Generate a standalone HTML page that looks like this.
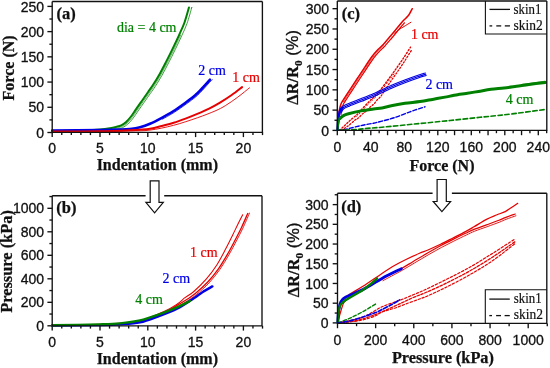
<!DOCTYPE html>
<html><head><meta charset="utf-8"><style>
html,body{margin:0;padding:0;background:#fff;width:550px;height:368px;overflow:hidden}
svg{display:block;will-change:transform}
text{font-kerning:normal}
</style></head><body>
<svg width="550" height="368" viewBox="0 0 550 368">
<rect width="550" height="368" fill="#fff"/>
<line x1="52.2" y1="132.3" x2="52.2" y2="137.1" stroke="#111" stroke-width="1.35"/>
<line x1="61.76" y1="132.3" x2="61.76" y2="135.1" stroke="#111" stroke-width="1.35"/>
<line x1="71.32" y1="132.3" x2="71.32" y2="135.1" stroke="#111" stroke-width="1.35"/>
<line x1="80.88" y1="132.3" x2="80.88" y2="135.1" stroke="#111" stroke-width="1.35"/>
<line x1="90.44" y1="132.3" x2="90.44" y2="135.1" stroke="#111" stroke-width="1.35"/>
<line x1="100" y1="132.3" x2="100" y2="137.1" stroke="#111" stroke-width="1.35"/>
<line x1="109.56" y1="132.3" x2="109.56" y2="135.1" stroke="#111" stroke-width="1.35"/>
<line x1="119.12" y1="132.3" x2="119.12" y2="135.1" stroke="#111" stroke-width="1.35"/>
<line x1="128.68" y1="132.3" x2="128.68" y2="135.1" stroke="#111" stroke-width="1.35"/>
<line x1="138.24" y1="132.3" x2="138.24" y2="135.1" stroke="#111" stroke-width="1.35"/>
<line x1="147.8" y1="132.3" x2="147.8" y2="137.1" stroke="#111" stroke-width="1.35"/>
<line x1="157.36" y1="132.3" x2="157.36" y2="135.1" stroke="#111" stroke-width="1.35"/>
<line x1="166.92" y1="132.3" x2="166.92" y2="135.1" stroke="#111" stroke-width="1.35"/>
<line x1="176.48" y1="132.3" x2="176.48" y2="135.1" stroke="#111" stroke-width="1.35"/>
<line x1="186.04" y1="132.3" x2="186.04" y2="135.1" stroke="#111" stroke-width="1.35"/>
<line x1="195.6" y1="132.3" x2="195.6" y2="137.1" stroke="#111" stroke-width="1.35"/>
<line x1="205.16" y1="132.3" x2="205.16" y2="135.1" stroke="#111" stroke-width="1.35"/>
<line x1="214.72" y1="132.3" x2="214.72" y2="135.1" stroke="#111" stroke-width="1.35"/>
<line x1="224.28" y1="132.3" x2="224.28" y2="135.1" stroke="#111" stroke-width="1.35"/>
<line x1="233.84" y1="132.3" x2="233.84" y2="135.1" stroke="#111" stroke-width="1.35"/>
<line x1="243.4" y1="132.3" x2="243.4" y2="137.1" stroke="#111" stroke-width="1.35"/>
<line x1="252.96" y1="132.3" x2="252.96" y2="135.1" stroke="#111" stroke-width="1.35"/>
<line x1="262.52" y1="132.3" x2="262.52" y2="135.1" stroke="#111" stroke-width="1.35"/>
<text x="52.2" y="153.4" font-family="'Liberation Sans', sans-serif" font-size="14" font-weight="normal" text-anchor="middle" fill="#111" stroke="#111" stroke-width="0.3">0</text>
<text x="100" y="153.4" font-family="'Liberation Sans', sans-serif" font-size="14" font-weight="normal" text-anchor="middle" fill="#111" stroke="#111" stroke-width="0.3">5</text>
<text x="147.8" y="153.4" font-family="'Liberation Sans', sans-serif" font-size="14" font-weight="normal" text-anchor="middle" fill="#111" stroke="#111" stroke-width="0.3">10</text>
<text x="195.6" y="153.4" font-family="'Liberation Sans', sans-serif" font-size="14" font-weight="normal" text-anchor="middle" fill="#111" stroke="#111" stroke-width="0.3">15</text>
<text x="243.4" y="153.4" font-family="'Liberation Sans', sans-serif" font-size="14" font-weight="normal" text-anchor="middle" fill="#111" stroke="#111" stroke-width="0.3">20</text>
<line x1="47.4" y1="132.5" x2="52.2" y2="132.5" stroke="#111" stroke-width="1.35"/>
<line x1="49.4" y1="119.89" x2="52.2" y2="119.89" stroke="#111" stroke-width="1.35"/>
<line x1="47.4" y1="107.28" x2="52.2" y2="107.28" stroke="#111" stroke-width="1.35"/>
<line x1="49.4" y1="94.67" x2="52.2" y2="94.67" stroke="#111" stroke-width="1.35"/>
<line x1="47.4" y1="82.06" x2="52.2" y2="82.06" stroke="#111" stroke-width="1.35"/>
<line x1="49.4" y1="69.45" x2="52.2" y2="69.45" stroke="#111" stroke-width="1.35"/>
<line x1="47.4" y1="56.84" x2="52.2" y2="56.84" stroke="#111" stroke-width="1.35"/>
<line x1="49.4" y1="44.23" x2="52.2" y2="44.23" stroke="#111" stroke-width="1.35"/>
<line x1="47.4" y1="31.62" x2="52.2" y2="31.62" stroke="#111" stroke-width="1.35"/>
<line x1="49.4" y1="19.01" x2="52.2" y2="19.01" stroke="#111" stroke-width="1.35"/>
<line x1="47.4" y1="6.4" x2="52.2" y2="6.4" stroke="#111" stroke-width="1.35"/>
<text x="44.1" y="137.6" font-family="'Liberation Sans', sans-serif" font-size="14" font-weight="normal" text-anchor="end" fill="#111" stroke="#111" stroke-width="0.3">0</text>
<text x="44.1" y="112.38" font-family="'Liberation Sans', sans-serif" font-size="14" font-weight="normal" text-anchor="end" fill="#111" stroke="#111" stroke-width="0.3">50</text>
<text x="44.1" y="87.16" font-family="'Liberation Sans', sans-serif" font-size="14" font-weight="normal" text-anchor="end" fill="#111" stroke="#111" stroke-width="0.3">100</text>
<text x="44.1" y="61.94" font-family="'Liberation Sans', sans-serif" font-size="14" font-weight="normal" text-anchor="end" fill="#111" stroke="#111" stroke-width="0.3">150</text>
<text x="44.1" y="36.72" font-family="'Liberation Sans', sans-serif" font-size="14" font-weight="normal" text-anchor="end" fill="#111" stroke="#111" stroke-width="0.3">200</text>
<text x="44.1" y="11.5" font-family="'Liberation Sans', sans-serif" font-size="14" font-weight="normal" text-anchor="end" fill="#111" stroke="#111" stroke-width="0.3">250</text>
<text x="157.3" y="169.5" font-family="'Liberation Serif', serif" font-size="16" font-weight="bold" text-anchor="middle" fill="#111" stroke="#111" stroke-width="0.25">Indentation (mm)</text>
<text x="0" y="0" font-family="'Liberation Serif', serif" font-size="16" font-weight="bold" text-anchor="middle" fill="#111" stroke="#111" stroke-width="0.25" transform="translate(13.9 67.9) rotate(-90)">Force (N)</text>
<text x="56.5" y="18.5" font-family="'Liberation Serif', serif" font-size="16.5" font-weight="bold" text-anchor="start" fill="#111" stroke="#111" stroke-width="0.25">(a)</text>
<text x="116.9" y="32.4" font-family="'Liberation Serif', serif" font-size="14" font-weight="normal" text-anchor="start" fill="#008000" stroke="#008000" stroke-width="0.2">dia = 4 cm</text>
<text x="198.3" y="75.3" font-family="'Liberation Serif', serif" font-size="14" font-weight="normal" text-anchor="start" fill="#0000e6" stroke="#0000e6" stroke-width="0.2">2 cm</text>
<text x="232.2" y="82.2" font-family="'Liberation Serif', serif" font-size="14" font-weight="normal" text-anchor="start" fill="#e60000" stroke="#e60000" stroke-width="0.2">1 cm</text>
<path d="M52.2 131 C56.83 130.93 72.03 130.87 80 130.6 C87.97 130.33 95 129.8 100 129.4 C105 129 107.27 128.63 110 128.2 C112.73 127.77 114.53 127.28 116.4 126.8 C118.27 126.32 119.58 126.1 121.2 125.3 C122.82 124.5 124.47 123.47 126.1 122 C127.73 120.53 129.37 118.6 131 116.5 C132.63 114.4 134.07 112.03 135.9 109.4 C137.73 106.77 139.97 103.6 142 100.7 C144.03 97.8 146.25 94.65 148.1 92 C149.95 89.35 151.17 87.82 153.1 84.8 C155.03 81.78 157.52 77.77 159.7 73.9 C161.88 70.03 164.03 65.82 166.2 61.6 C168.37 57.38 170.52 53.1 172.7 48.6 C174.88 44.1 177.33 38.95 179.3 34.6 C181.27 30.25 182.88 27.03 184.5 22.5 C186.12 17.97 188.25 9.92 189 7.4" fill="none" stroke="#008000" stroke-width="2.0" stroke-linecap="round" stroke-linejoin="round"/>
<path d="M110.23 129.63 C111.32 129.39 114.83 128.71 116.76 128.2 C118.7 127.7 120.13 127.45 121.84 126.6 C123.56 125.75 125.35 124.61 127.07 123.08 C128.79 121.54 130.47 119.53 132.14 117.39 C133.81 115.25 135.25 112.87 137.09 110.23 C138.93 107.59 141.15 104.43 143.19 101.53 C145.22 98.63 147.43 95.49 149.29 92.83 C151.14 90.17 152.38 88.62 154.32 85.58 C156.27 82.55 158.77 78.5 160.96 74.61 C163.16 70.73 165.32 66.49 167.49 62.26 C169.66 58.03 171.82 53.74 174 49.23 C176.19 44.72 179.52 37.54 180.62 35.2" fill="none" stroke="#008000" stroke-width="0.6" stroke-linecap="round" stroke-linejoin="round"/>
<path d="M117.08 129.41 C117.96 129.13 120.59 128.62 122.4 127.72 C124.2 126.82 126.11 125.6 127.9 124.01 C129.69 122.42 131.43 120.34 133.13 118.16 C134.83 115.98 136.27 113.59 138.12 110.94 C139.96 108.29 142.18 105.15 144.21 102.25 C146.24 99.35 148.45 96.21 150.31 93.55 C152.17 90.88 153.42 89.31 155.37 86.26 C157.33 83.2 159.85 79.13 162.05 75.23 C164.26 71.32 166.42 67.08 168.6 62.83 C170.78 58.59 172.94 54.3 175.13 49.78 C177.32 45.26 179.77 40.11 181.76 35.71 C183.75 31.32 185.41 28 187.04 23.41 C188.68 18.82 190.86 10.67 191.59 8.17 C192.31 5.67 191.43 8.36 191.4 8.4" fill="none" stroke="#008000" stroke-width="0.75" stroke-linecap="round" stroke-linejoin="round"/>
<path d="M52.2 130.6 C60.17 130.52 88.7 130.27 100 130.1 C111.3 129.93 115 129.78 120 129.6 C125 129.42 126.67 129.38 130 129 C133.33 128.62 136.67 128.17 140 127.3 C143.33 126.43 146.37 125.38 150 123.8 C153.63 122.22 157.87 119.93 161.8 117.8 C165.73 115.67 169.65 113.52 173.6 111 C177.55 108.48 181.95 105.27 185.5 102.7 C189.05 100.13 192.3 97.8 194.9 95.6 C197.5 93.4 198.58 92.15 201.1 89.5 C203.62 86.85 208.52 81.33 210 79.7" fill="none" stroke="#0000e6" stroke-width="2.6" stroke-linecap="round" stroke-linejoin="round"/>
<path d="M162.52 119.12 C164.5 117.98 170.43 114.8 174.41 112.27 C178.38 109.73 182.8 106.5 186.38 103.92 C189.96 101.33 193.23 98.98 195.87 96.75 C198.5 94.51 199.65 93.21 202.19 90.53 C204.73 87.86 209.41 82.48 211.11 80.71 C212.81 78.94 212.19 80.03 212.4 79.9" fill="none" stroke="#0000e6" stroke-width="0.8" stroke-linecap="round" stroke-linejoin="round"/>
<path d="M52.2 131.5 C60.17 131.47 87.03 131.52 100 131.3 C112.97 131.08 121.67 130.63 130 130.2 C138.33 129.77 144.7 129.4 150 128.7 C155.3 128 157.87 126.98 161.8 126 C165.73 125.02 169.65 124.03 173.6 122.8 C177.55 121.57 181.55 120.08 185.5 118.6 C189.45 117.12 193.37 115.57 197.3 113.9 C201.23 112.23 205.32 110.48 209.1 108.6 C212.88 106.72 216.23 104.87 220 102.6 C223.77 100.33 228.02 97.58 231.7 95 C235.38 92.42 240.37 88.42 242.1 87.1" fill="none" stroke="#e60000" stroke-width="2.0" stroke-linecap="round" stroke-linejoin="round"/>
<path d="M52.2 131.5 C60.17 131.48 87.03 131.5 100 131.4 C112.97 131.3 121.67 131.12 130 130.9 C138.33 130.68 142.73 131.03 150 130.1 C157.27 129.17 165.72 127.35 173.6 125.3 C181.48 123.25 190.4 120.18 197.3 117.8 C204.2 115.42 210.28 113.05 215 111 C219.72 108.95 221.8 107.82 225.6 105.5 C229.4 103.18 233.83 100.03 237.8 97.1 C241.77 94.17 247.47 89.43 249.4 87.9" fill="none" stroke="#e60000" stroke-width="0.9" stroke-linecap="round" stroke-linejoin="round"/>
<line x1="52.2" y1="325.8" x2="52.2" y2="330.6" stroke="#111" stroke-width="1.35"/>
<line x1="61.76" y1="325.8" x2="61.76" y2="328.6" stroke="#111" stroke-width="1.35"/>
<line x1="71.32" y1="325.8" x2="71.32" y2="328.6" stroke="#111" stroke-width="1.35"/>
<line x1="80.88" y1="325.8" x2="80.88" y2="328.6" stroke="#111" stroke-width="1.35"/>
<line x1="90.44" y1="325.8" x2="90.44" y2="328.6" stroke="#111" stroke-width="1.35"/>
<line x1="100" y1="325.8" x2="100" y2="330.6" stroke="#111" stroke-width="1.35"/>
<line x1="109.56" y1="325.8" x2="109.56" y2="328.6" stroke="#111" stroke-width="1.35"/>
<line x1="119.12" y1="325.8" x2="119.12" y2="328.6" stroke="#111" stroke-width="1.35"/>
<line x1="128.68" y1="325.8" x2="128.68" y2="328.6" stroke="#111" stroke-width="1.35"/>
<line x1="138.24" y1="325.8" x2="138.24" y2="328.6" stroke="#111" stroke-width="1.35"/>
<line x1="147.8" y1="325.8" x2="147.8" y2="330.6" stroke="#111" stroke-width="1.35"/>
<line x1="157.36" y1="325.8" x2="157.36" y2="328.6" stroke="#111" stroke-width="1.35"/>
<line x1="166.92" y1="325.8" x2="166.92" y2="328.6" stroke="#111" stroke-width="1.35"/>
<line x1="176.48" y1="325.8" x2="176.48" y2="328.6" stroke="#111" stroke-width="1.35"/>
<line x1="186.04" y1="325.8" x2="186.04" y2="328.6" stroke="#111" stroke-width="1.35"/>
<line x1="195.6" y1="325.8" x2="195.6" y2="330.6" stroke="#111" stroke-width="1.35"/>
<line x1="205.16" y1="325.8" x2="205.16" y2="328.6" stroke="#111" stroke-width="1.35"/>
<line x1="214.72" y1="325.8" x2="214.72" y2="328.6" stroke="#111" stroke-width="1.35"/>
<line x1="224.28" y1="325.8" x2="224.28" y2="328.6" stroke="#111" stroke-width="1.35"/>
<line x1="233.84" y1="325.8" x2="233.84" y2="328.6" stroke="#111" stroke-width="1.35"/>
<line x1="243.4" y1="325.8" x2="243.4" y2="330.6" stroke="#111" stroke-width="1.35"/>
<line x1="252.96" y1="325.8" x2="252.96" y2="328.6" stroke="#111" stroke-width="1.35"/>
<line x1="262.52" y1="325.8" x2="262.52" y2="328.6" stroke="#111" stroke-width="1.35"/>
<text x="52.2" y="346.9" font-family="'Liberation Sans', sans-serif" font-size="14" font-weight="normal" text-anchor="middle" fill="#111" stroke="#111" stroke-width="0.3">0</text>
<text x="100" y="346.9" font-family="'Liberation Sans', sans-serif" font-size="14" font-weight="normal" text-anchor="middle" fill="#111" stroke="#111" stroke-width="0.3">5</text>
<text x="147.8" y="346.9" font-family="'Liberation Sans', sans-serif" font-size="14" font-weight="normal" text-anchor="middle" fill="#111" stroke="#111" stroke-width="0.3">10</text>
<text x="195.6" y="346.9" font-family="'Liberation Sans', sans-serif" font-size="14" font-weight="normal" text-anchor="middle" fill="#111" stroke="#111" stroke-width="0.3">15</text>
<text x="243.4" y="346.9" font-family="'Liberation Sans', sans-serif" font-size="14" font-weight="normal" text-anchor="middle" fill="#111" stroke="#111" stroke-width="0.3">20</text>
<line x1="47.4" y1="325.8" x2="52.2" y2="325.8" stroke="#111" stroke-width="1.35"/>
<line x1="49.4" y1="314.05" x2="52.2" y2="314.05" stroke="#111" stroke-width="1.35"/>
<line x1="47.4" y1="302.3" x2="52.2" y2="302.3" stroke="#111" stroke-width="1.35"/>
<line x1="49.4" y1="290.55" x2="52.2" y2="290.55" stroke="#111" stroke-width="1.35"/>
<line x1="47.4" y1="278.8" x2="52.2" y2="278.8" stroke="#111" stroke-width="1.35"/>
<line x1="49.4" y1="267.05" x2="52.2" y2="267.05" stroke="#111" stroke-width="1.35"/>
<line x1="47.4" y1="255.3" x2="52.2" y2="255.3" stroke="#111" stroke-width="1.35"/>
<line x1="49.4" y1="243.55" x2="52.2" y2="243.55" stroke="#111" stroke-width="1.35"/>
<line x1="47.4" y1="231.8" x2="52.2" y2="231.8" stroke="#111" stroke-width="1.35"/>
<line x1="49.4" y1="220.05" x2="52.2" y2="220.05" stroke="#111" stroke-width="1.35"/>
<line x1="47.4" y1="208.3" x2="52.2" y2="208.3" stroke="#111" stroke-width="1.35"/>
<line x1="49.4" y1="196.55" x2="52.2" y2="196.55" stroke="#111" stroke-width="1.35"/>
<text x="44.1" y="330.9" font-family="'Liberation Sans', sans-serif" font-size="14" font-weight="normal" text-anchor="end" fill="#111" stroke="#111" stroke-width="0.3">0</text>
<text x="44.1" y="307.4" font-family="'Liberation Sans', sans-serif" font-size="14" font-weight="normal" text-anchor="end" fill="#111" stroke="#111" stroke-width="0.3">200</text>
<text x="44.1" y="283.9" font-family="'Liberation Sans', sans-serif" font-size="14" font-weight="normal" text-anchor="end" fill="#111" stroke="#111" stroke-width="0.3">400</text>
<text x="44.1" y="260.4" font-family="'Liberation Sans', sans-serif" font-size="14" font-weight="normal" text-anchor="end" fill="#111" stroke="#111" stroke-width="0.3">600</text>
<text x="44.1" y="236.9" font-family="'Liberation Sans', sans-serif" font-size="14" font-weight="normal" text-anchor="end" fill="#111" stroke="#111" stroke-width="0.3">800</text>
<text x="44.1" y="213.4" font-family="'Liberation Sans', sans-serif" font-size="14" font-weight="normal" text-anchor="end" fill="#111" stroke="#111" stroke-width="0.3">1000</text>
<text x="157.3" y="364.2" font-family="'Liberation Serif', serif" font-size="16" font-weight="bold" text-anchor="middle" fill="#111" stroke="#111" stroke-width="0.25">Indentation (mm)</text>
<text x="0" y="0" font-family="'Liberation Serif', serif" font-size="16.4" font-weight="bold" text-anchor="middle" fill="#111" stroke="#111" stroke-width="0.25" transform="translate(11.6 261.5) rotate(-90)">Pressure (kPa)</text>
<text x="56.3" y="212.7" font-family="'Liberation Serif', serif" font-size="16.5" font-weight="bold" text-anchor="start" fill="#111" stroke="#111" stroke-width="0.25">(b)</text>
<text x="190" y="257.1" font-family="'Liberation Serif', serif" font-size="14" font-weight="normal" text-anchor="start" fill="#e60000" stroke="#e60000" stroke-width="0.2">1 cm</text>
<text x="162.6" y="282.6" font-family="'Liberation Serif', serif" font-size="14" font-weight="normal" text-anchor="start" fill="#0000e6" stroke="#0000e6" stroke-width="0.2">2 cm</text>
<text x="135.2" y="303.6" font-family="'Liberation Serif', serif" font-size="14" font-weight="normal" text-anchor="start" fill="#008000" stroke="#008000" stroke-width="0.2">4 cm</text>
<path d="M52.2 325.3 C58.5 325.17 78.7 324.85 90 324.5 C101.3 324.15 111.67 323.82 120 323.2 C128.33 322.58 132.67 322.73 140 320.8 C147.33 318.87 157.83 314.37 164 311.6 C170.17 308.83 173.5 306.52 177 304.2 C180.5 301.88 182.2 299.82 185 297.7 C187.8 295.58 190.27 294.58 193.8 291.5 C197.33 288.42 202.37 283.62 206.2 279.2 C210.03 274.78 213.57 270.02 216.8 265 C220.03 259.98 222.95 254.1 225.6 249.1 C228.25 244.1 230.72 239.02 232.7 235 C234.68 230.98 235.83 228.38 237.5 225 C239.17 221.62 241.83 216.42 242.7 214.7" fill="none" stroke="#e60000" stroke-width="1.05" stroke-linecap="round" stroke-linejoin="round"/>
<path d="M52.2 325.5 C58.5 325.38 78.7 325.12 90 324.8 C101.3 324.48 111.67 324.18 120 323.6 C128.33 323.02 132.67 323.17 140 321.3 C147.33 319.43 157.83 315.05 164 312.4 C170.17 309.75 173.2 307.55 177 305.4 C180.8 303.25 183.7 301.52 186.8 299.5 C189.9 297.48 192.07 296.25 195.6 293.3 C199.13 290.35 204.17 285.92 208 281.8 C211.83 277.68 215.37 273.17 218.6 268.6 C221.83 264.03 224.67 259.12 227.4 254.4 C230.13 249.68 232.65 244.78 235 240.3 C237.35 235.82 239.38 231.97 241.5 227.5 C243.62 223.03 246.67 215.83 247.7 213.5" fill="none" stroke="#e60000" stroke-width="1.3" stroke-linecap="round" stroke-linejoin="round"/>
<path d="M164.59 313.78 C166.78 312.6 173.9 308.88 177.74 306.71 C181.58 304.54 184.48 302.8 187.62 300.76 C190.76 298.72 192.98 297.44 196.56 294.45 C200.14 291.46 205.22 286.99 209.1 282.82 C212.97 278.66 216.56 274.08 219.82 269.47 C223.09 264.86 225.95 259.9 228.7 255.15 C231.45 250.41 233.97 245.5 236.33 241 C238.69 236.49 240.73 232.62 242.86 228.14 C244.98 223.66 248.06 216.5 249.07 214.11 C250.08 211.72 248.93 213.85 248.9 213.8" fill="none" stroke="#e60000" stroke-width="0.9" stroke-linecap="round" stroke-linejoin="round"/>
<path d="M52.2 325.6 C60.17 325.52 88.7 325.3 100 325.1 C111.3 324.9 113.33 324.85 120 324.4 C126.67 323.95 133.58 323.75 140 322.4 C146.42 321.05 152.33 318.57 158.5 316.3 C164.67 314.03 171.12 311.82 177 308.8 C182.88 305.78 189.52 301 193.8 298.2 C198.08 295.4 199.6 293.97 202.7 292 C205.8 290.03 210.78 287.33 212.4 286.4" fill="none" stroke="#0000e6" stroke-width="2.4" stroke-linecap="round" stroke-linejoin="round"/>
<path d="M52.2 325.3 C60.17 325.15 88.7 324.72 100 324.4 C111.3 324.08 113.33 324.07 120 323.4 C126.67 322.73 133.58 321.87 140 320.4 C146.42 318.93 152.33 316.77 158.5 314.6 C164.67 312.43 171.77 309.67 177 307.4 C182.23 305.13 187.75 302.07 189.9 301" fill="none" stroke="#008000" stroke-width="2.4" stroke-linecap="round" stroke-linejoin="round"/>
<line x1="337.3" y1="130.4" x2="337.3" y2="135.2" stroke="#111" stroke-width="1.35"/>
<line x1="345.68" y1="130.4" x2="345.68" y2="133.2" stroke="#111" stroke-width="1.35"/>
<line x1="354.05" y1="130.4" x2="354.05" y2="135.2" stroke="#111" stroke-width="1.35"/>
<line x1="362.43" y1="130.4" x2="362.43" y2="133.2" stroke="#111" stroke-width="1.35"/>
<line x1="370.8" y1="130.4" x2="370.8" y2="135.2" stroke="#111" stroke-width="1.35"/>
<line x1="379.18" y1="130.4" x2="379.18" y2="133.2" stroke="#111" stroke-width="1.35"/>
<line x1="387.55" y1="130.4" x2="387.55" y2="135.2" stroke="#111" stroke-width="1.35"/>
<line x1="395.93" y1="130.4" x2="395.93" y2="133.2" stroke="#111" stroke-width="1.35"/>
<line x1="404.3" y1="130.4" x2="404.3" y2="135.2" stroke="#111" stroke-width="1.35"/>
<line x1="412.68" y1="130.4" x2="412.68" y2="133.2" stroke="#111" stroke-width="1.35"/>
<line x1="421.05" y1="130.4" x2="421.05" y2="135.2" stroke="#111" stroke-width="1.35"/>
<line x1="429.43" y1="130.4" x2="429.43" y2="133.2" stroke="#111" stroke-width="1.35"/>
<line x1="437.8" y1="130.4" x2="437.8" y2="135.2" stroke="#111" stroke-width="1.35"/>
<line x1="446.18" y1="130.4" x2="446.18" y2="133.2" stroke="#111" stroke-width="1.35"/>
<line x1="454.55" y1="130.4" x2="454.55" y2="135.2" stroke="#111" stroke-width="1.35"/>
<line x1="462.93" y1="130.4" x2="462.93" y2="133.2" stroke="#111" stroke-width="1.35"/>
<line x1="471.3" y1="130.4" x2="471.3" y2="135.2" stroke="#111" stroke-width="1.35"/>
<line x1="479.68" y1="130.4" x2="479.68" y2="133.2" stroke="#111" stroke-width="1.35"/>
<line x1="488.05" y1="130.4" x2="488.05" y2="135.2" stroke="#111" stroke-width="1.35"/>
<line x1="496.43" y1="130.4" x2="496.43" y2="133.2" stroke="#111" stroke-width="1.35"/>
<line x1="504.8" y1="130.4" x2="504.8" y2="135.2" stroke="#111" stroke-width="1.35"/>
<line x1="513.17" y1="130.4" x2="513.17" y2="133.2" stroke="#111" stroke-width="1.35"/>
<line x1="521.55" y1="130.4" x2="521.55" y2="135.2" stroke="#111" stroke-width="1.35"/>
<line x1="529.92" y1="130.4" x2="529.92" y2="133.2" stroke="#111" stroke-width="1.35"/>
<line x1="538.3" y1="130.4" x2="538.3" y2="135.2" stroke="#111" stroke-width="1.35"/>
<line x1="546.67" y1="130.4" x2="546.67" y2="133.2" stroke="#111" stroke-width="1.35"/>
<text x="337.3" y="151.8" font-family="'Liberation Sans', sans-serif" font-size="14" font-weight="normal" text-anchor="middle" fill="#111" stroke="#111" stroke-width="0.3">0</text>
<text x="370.8" y="151.8" font-family="'Liberation Sans', sans-serif" font-size="14" font-weight="normal" text-anchor="middle" fill="#111" stroke="#111" stroke-width="0.3">40</text>
<text x="404.3" y="151.8" font-family="'Liberation Sans', sans-serif" font-size="14" font-weight="normal" text-anchor="middle" fill="#111" stroke="#111" stroke-width="0.3">80</text>
<text x="437.8" y="151.8" font-family="'Liberation Sans', sans-serif" font-size="14" font-weight="normal" text-anchor="middle" fill="#111" stroke="#111" stroke-width="0.3">120</text>
<text x="471.3" y="151.8" font-family="'Liberation Sans', sans-serif" font-size="14" font-weight="normal" text-anchor="middle" fill="#111" stroke="#111" stroke-width="0.3">160</text>
<text x="504.8" y="151.8" font-family="'Liberation Sans', sans-serif" font-size="14" font-weight="normal" text-anchor="middle" fill="#111" stroke="#111" stroke-width="0.3">200</text>
<text x="538.3" y="151.8" font-family="'Liberation Sans', sans-serif" font-size="14" font-weight="normal" text-anchor="middle" fill="#111" stroke="#111" stroke-width="0.3">240</text>
<line x1="332.5" y1="130.4" x2="337.3" y2="130.4" stroke="#111" stroke-width="1.35"/>
<line x1="334.5" y1="120.26" x2="337.3" y2="120.26" stroke="#111" stroke-width="1.35"/>
<line x1="332.5" y1="110.12" x2="337.3" y2="110.12" stroke="#111" stroke-width="1.35"/>
<line x1="334.5" y1="99.97" x2="337.3" y2="99.97" stroke="#111" stroke-width="1.35"/>
<line x1="332.5" y1="89.83" x2="337.3" y2="89.83" stroke="#111" stroke-width="1.35"/>
<line x1="334.5" y1="79.69" x2="337.3" y2="79.69" stroke="#111" stroke-width="1.35"/>
<line x1="332.5" y1="69.55" x2="337.3" y2="69.55" stroke="#111" stroke-width="1.35"/>
<line x1="334.5" y1="59.4" x2="337.3" y2="59.4" stroke="#111" stroke-width="1.35"/>
<line x1="332.5" y1="49.26" x2="337.3" y2="49.26" stroke="#111" stroke-width="1.35"/>
<line x1="334.5" y1="39.12" x2="337.3" y2="39.12" stroke="#111" stroke-width="1.35"/>
<line x1="332.5" y1="28.98" x2="337.3" y2="28.98" stroke="#111" stroke-width="1.35"/>
<line x1="334.5" y1="18.83" x2="337.3" y2="18.83" stroke="#111" stroke-width="1.35"/>
<line x1="332.5" y1="8.69" x2="337.3" y2="8.69" stroke="#111" stroke-width="1.35"/>
<text x="329" y="135.5" font-family="'Liberation Sans', sans-serif" font-size="14" font-weight="normal" text-anchor="end" fill="#111" stroke="#111" stroke-width="0.3">0</text>
<text x="329" y="115.22" font-family="'Liberation Sans', sans-serif" font-size="14" font-weight="normal" text-anchor="end" fill="#111" stroke="#111" stroke-width="0.3">50</text>
<text x="329" y="94.93" font-family="'Liberation Sans', sans-serif" font-size="14" font-weight="normal" text-anchor="end" fill="#111" stroke="#111" stroke-width="0.3">100</text>
<text x="329" y="74.64" font-family="'Liberation Sans', sans-serif" font-size="14" font-weight="normal" text-anchor="end" fill="#111" stroke="#111" stroke-width="0.3">150</text>
<text x="329" y="54.36" font-family="'Liberation Sans', sans-serif" font-size="14" font-weight="normal" text-anchor="end" fill="#111" stroke="#111" stroke-width="0.3">200</text>
<text x="329" y="34.08" font-family="'Liberation Sans', sans-serif" font-size="14" font-weight="normal" text-anchor="end" fill="#111" stroke="#111" stroke-width="0.3">250</text>
<text x="329" y="13.79" font-family="'Liberation Sans', sans-serif" font-size="14" font-weight="normal" text-anchor="end" fill="#111" stroke="#111" stroke-width="0.3">300</text>
<text x="442" y="170.6" font-family="'Liberation Serif', serif" font-size="16" font-weight="bold" text-anchor="middle" fill="#111" stroke="#111" stroke-width="0.25">Force (N)</text>
<text font-family="'Liberation Serif', serif" font-size="16.5" font-weight="bold" text-anchor="middle" fill="#111" stroke="#111" stroke-width="0.25" transform="translate(298.3 67.4) rotate(-90)">&#916;R/R<tspan font-size="11.3" dy="3.9">0</tspan><tspan dy="-3.9" font-family="'Liberation Sans', sans-serif" font-weight="normal" stroke-width="0.3"> (%)</tspan></text>
<text x="341.8" y="18.6" font-family="'Liberation Serif', serif" font-size="16.5" font-weight="bold" text-anchor="start" fill="#111" stroke="#111" stroke-width="0.25">(c)</text>
<text x="410.9" y="39" font-family="'Liberation Serif', serif" font-size="14" font-weight="normal" text-anchor="start" fill="#e60000" stroke="#e60000" stroke-width="0.2">1 cm</text>
<text x="425.4" y="89.3" font-family="'Liberation Serif', serif" font-size="14" font-weight="normal" text-anchor="start" fill="#0000e6" stroke="#0000e6" stroke-width="0.2">2 cm</text>
<text x="505.8" y="104.4" font-family="'Liberation Serif', serif" font-size="14" font-weight="normal" text-anchor="start" fill="#008000" stroke="#008000" stroke-width="0.2">4 cm</text>
<path d="M485.4 1.0 L485.4 34.0 L546.8 34.0" fill="none" stroke="#111" stroke-width="1.1"/>
<line x1="489.5" y1="9.4" x2="510" y2="9.4" stroke="#111" stroke-width="1.3"/>
<line x1="489.5" y1="25.9" x2="492.2" y2="25.9" stroke="#111" stroke-width="1.3"/>
<line x1="496.3" y1="25.9" x2="501.2" y2="25.9" stroke="#111" stroke-width="1.3"/>
<line x1="504.8" y1="25.9" x2="510" y2="25.9" stroke="#111" stroke-width="1.3"/>
<text x="513.6" y="13.5" font-family="'Liberation Serif', serif" font-size="14" font-weight="normal" text-anchor="start" fill="#111" stroke="#111" stroke-width="0.2" textLength="27.8" lengthAdjust="spacingAndGlyphs">skin1</text>
<text x="513.6" y="29.6" font-family="'Liberation Serif', serif" font-size="14" font-weight="normal" text-anchor="start" fill="#111" stroke="#111" stroke-width="0.2" textLength="29.2" lengthAdjust="spacingAndGlyphs">skin2</text>
<path d="M339.5 130.2 C340.42 129.38 343.25 126.92 345 125.3 C346.75 123.68 348.2 122.12 350 120.5 C351.8 118.88 354.42 116.82 355.8 115.6 C357.18 114.38 357.08 114.48 358.3 113.2 C359.52 111.92 361.33 109.8 363.1 107.9 C364.87 106 367.27 103.45 368.9 101.8 C370.53 100.15 371.3 99.58 372.9 98 C374.5 96.42 376.19 95.05 378.5 92.3 C380.81 89.55 384.12 85 386.75 81.5 C389.38 78 391.54 75.08 394.25 71.3 C396.96 67.52 400.29 62.82 403 58.8 C405.71 54.78 409.25 49.13 410.5 47.2" fill="none" stroke="#e60000" stroke-width="1.4" stroke-linecap="round" stroke-linejoin="round" stroke-dasharray="1.4 1.9"/>
<path d="M341.5 130.2 C342.58 129.5 345.75 127.68 348 126 C350.25 124.32 353.28 121.42 355 120.1 C356.72 118.78 357.08 119.12 358.3 118.1 C359.52 117.08 361.08 115.08 362.3 114 C363.52 112.92 364.23 112.82 365.6 111.6 C366.97 110.38 369.15 107.93 370.5 106.7 C371.85 105.47 372.62 105.3 373.7 104.2 C374.78 103.1 375.9 101.32 377 100.1 C378.1 98.88 379.35 97.98 380.3 96.9 C381.25 95.82 381 96.15 382.7 93.6 C384.4 91.05 387.95 85.37 390.5 81.6 C393.05 77.83 395.5 74.64 398 71 C400.5 67.36 403.21 63.29 405.5 59.75 C407.79 56.21 410.71 51.42 411.75 49.75" fill="none" stroke="#e60000" stroke-width="1.3" stroke-linecap="round" stroke-linejoin="round" stroke-dasharray="1.4 1.9"/>
<path d="M356.59 116.5 C357.02 116.09 357.94 115.32 359.17 114.03 C360.4 112.73 362.22 110.61 363.98 108.72 C365.74 106.82 368.13 104.29 369.75 102.64 C371.38 101 372.13 100.45 373.74 98.85 C375.36 97.26 377.09 95.84 379.42 93.07 C381.75 90.3 385.08 85.73 387.71 82.22 C390.34 78.71 393.97 73.7 395.23 72" fill="none" stroke="#e60000" stroke-width="1.0" stroke-linecap="round" stroke-linejoin="round" stroke-dasharray="1.2 2.5"/>
<path d="M337.6 129.8 C337.68 128.5 337.9 124.63 338.1 122 C338.3 119.37 338.52 116.33 338.8 114 C339.08 111.67 339.4 109.75 339.8 108 C340.2 106.25 340.75 104.65 341.2 103.5 C341.65 102.35 341.03 103.42 342.5 101.1 C343.97 98.78 347.48 93.45 350 89.6 C352.52 85.75 355.1 81.8 357.6 78 C360.1 74.2 362.6 70.38 365 66.8 C367.4 63.22 369.92 59.3 372 56.5 C374.08 53.7 375.71 51.92 377.5 50 C379.29 48.08 380.62 47.29 382.75 45 C384.88 42.71 387.96 38.96 390.25 36.25 C392.54 33.54 394.42 31.25 396.5 28.75 C398.58 26.25 400.88 23.33 402.75 21.25 C404.62 19.17 406.5 17.71 407.75 16.25 C409 14.79 409.49 13.76 410.25 12.5 C411.01 11.24 411.96 9.33 412.3 8.7" fill="none" stroke="#e60000" stroke-width="1.5" stroke-linecap="round" stroke-linejoin="round"/>
<path d="M341.08 114.28 C341.24 113.32 341.67 110.17 342.04 108.51 C342.42 106.86 342.94 105.37 343.34 104.34 C343.74 103.31 343.01 104.58 344.44 102.33 C345.87 100.08 349.41 94.7 351.93 90.86 C354.44 87.01 357.02 83.06 359.52 79.26 C362.02 75.47 364.52 71.65 366.91 68.08 C369.3 64.51 371.8 60.62 373.85 57.87 C375.89 55.12 377.42 53.46 379.18 51.57 C380.95 49.69 382.3 48.87 384.44 46.56 C386.57 44.26 389.7 40.46 392.01 37.74 C394.31 35.01 396.19 32.71 398.27 30.22 C400.34 27.73 403.43 24.03 404.46 22.79" fill="none" stroke="#e60000" stroke-width="1.2" stroke-linecap="round" stroke-linejoin="round"/>
<path d="M343.51 101.74 C344.76 99.83 348.49 94.1 351 90.26 C353.52 86.41 356.1 82.46 358.6 78.66 C361.1 74.86 363.6 71.04 366 67.47 C368.39 63.89 370.9 59.99 372.96 57.22 C375.03 54.44 376.6 52.72 378.38 50.82 C380.15 48.92 382.75 46.65 383.63 45.82" fill="none" stroke="#e60000" stroke-width="0.7" stroke-linecap="round" stroke-linejoin="round"/>
<path d="M394.5 33.2 C395.25 32.6 397.42 30.72 399 29.6 C400.58 28.48 402.02 27.72 404 26.5 C405.98 25.28 409.75 23 410.9 22.3" fill="none" stroke="#e60000" stroke-width="1.0" stroke-linecap="round" stroke-linejoin="round"/>
<path d="M337.6 129.8 C337.65 128.83 337.75 126.05 337.9 124 C338.05 121.95 338.17 119.58 338.5 117.5 C338.83 115.42 339.27 113.15 339.9 111.5 C340.53 109.85 341.9 108.25 342.3 107.6" fill="none" stroke="#0000e6" stroke-width="2.5" stroke-linecap="round" stroke-linejoin="round"/>
<path d="M339.15 111.21 C339.59 110.51 340.29 108.22 341.79 106.98 C343.3 105.74 345.03 105.12 348.19 103.76 C351.34 102.41 356.54 100.51 360.71 98.86 C364.87 97.21 370.03 95.19 373.19 93.86 C376.35 92.53 376.5 92.34 379.66 90.87 C382.83 89.41 388.01 86.87 392.18 85.07 C396.36 83.26 400.54 81.64 404.72 80.05 C408.89 78.47 413.8 76.73 417.24 75.54 C420.68 74.36 424 73.37 425.36 72.94" fill="none" stroke="#0000e6" stroke-width="1.1" stroke-linecap="round" stroke-linejoin="round"/>
<path d="M340.37 111.68 C340.74 111.06 341.23 109.11 342.62 107.99 C344 106.87 345.6 106.28 348.7 104.96 C351.79 103.64 357.02 101.71 361.18 100.06 C365.35 98.42 370.52 96.4 373.69 95.06 C376.87 93.73 377.04 93.52 380.21 92.05 C383.38 90.59 388.54 88.06 392.7 86.26 C396.86 84.46 401.02 82.85 405.18 81.27 C409.34 79.69 414.23 77.95 417.66 76.77 C421.09 75.59 424.4 74.61 425.75 74.18" fill="none" stroke="#0000e6" stroke-width="1.1" stroke-linecap="round" stroke-linejoin="round"/>
<path d="M341.58 112.15 C341.89 111.62 342.17 109.99 343.44 109 C344.71 108 346.17 107.44 349.21 106.15 C352.25 104.87 357.5 102.92 361.66 101.27 C365.83 99.62 371.02 97.6 374.2 96.26 C377.38 94.92 377.59 94.7 380.76 93.23 C383.93 91.77 389.07 89.24 393.21 87.45 C397.36 85.66 401.49 84.06 405.64 82.48 C409.78 80.91 414.67 79.18 418.09 78 C421.5 76.82 424.81 75.85 426.15 75.41" fill="none" stroke="#0000e6" stroke-width="1.1" stroke-linecap="round" stroke-linejoin="round"/>
<path d="M337.6 129.8 C337.65 129.17 337.75 127.22 337.9 126 C338.05 124.78 338.17 123.75 338.5 122.5 C338.83 121.25 339.07 119.65 339.9 118.5 C340.73 117.35 342.9 116.08 343.5 115.6" fill="none" stroke="#008000" stroke-width="2.0" stroke-linecap="round" stroke-linejoin="round"/>
<path d="M339.9 118.5 C340.5 118.02 342.07 116.38 343.5 115.6 C344.93 114.82 345.58 114.58 348.5 113.8 C351.42 113.02 356.83 111.7 361 110.9 C365.17 110.1 370 109.48 373.5 109 C377 108.52 378.83 108.58 382 108 C385.17 107.42 388.67 106.28 392.5 105.5 C396.33 104.72 400.42 103.95 405 103.3 C409.58 102.65 415.42 102.25 420 101.6 C424.58 100.95 428.33 100.15 432.5 99.4 C436.67 98.65 440.83 97.87 445 97.1 C449.17 96.33 454 95.4 457.5 94.8 C461 94.2 462.5 94.07 466 93.5 C469.5 92.93 474.33 92.1 478.5 91.4 C482.67 90.7 486.75 89.87 491 89.3 C495.25 88.73 499.75 88.5 504 88 C508.25 87.5 512.33 86.88 516.5 86.3 C520.67 85.72 524.2 85.15 529 84.5 C533.8 83.85 542.58 82.75 545.3 82.4" fill="none" stroke="#008000" stroke-width="3.0" stroke-linecap="round" stroke-linejoin="round"/>
<path d="M522.7 84.2 C524.75 83.95 531.28 83.2 535 82.7 C538.72 82.2 543.33 81.45 545 81.2" fill="none" stroke="#008000" stroke-width="0.8" stroke-linecap="round" stroke-linejoin="round"/>
<path d="M337.6 130.2 C338.5 130.12 341.18 129.97 343 129.7 C344.82 129.43 345.5 129.28 348.5 128.6 C351.5 127.92 356.83 126.5 361 125.6 C365.17 124.7 370 123.95 373.5 123.2 C377 122.45 378.47 122.03 382 121.1 C385.53 120.17 390.03 119.15 394.7 117.6 C399.37 116.05 404.95 113.6 410 111.8 C415.05 110 422.5 107.63 425 106.8" fill="none" stroke="#0000e6" stroke-width="1.4" stroke-linecap="round" stroke-linejoin="round" stroke-dasharray="4 2"/>
<path d="M337.6 130.3 C340.46 130.18 349.81 129.92 354.75 129.6 C359.69 129.28 362.71 128.8 367.25 128.4 C371.79 128 376.54 127.68 382 127.2 C387.46 126.72 393.67 126.12 400 125.5 C406.33 124.88 411.67 124.33 420 123.5 C428.33 122.67 440 121.53 450 120.5 C460 119.47 472.17 118.12 480 117.3 C487.83 116.48 491.67 116.17 497 115.6 C502.33 115.03 504.12 114.9 512 113.9 C519.88 112.9 538.92 110.32 544.3 109.6" fill="none" stroke="#008000" stroke-width="1.6" stroke-linecap="round" stroke-linejoin="round" stroke-dasharray="4.5 2.5"/>
<line x1="337.5" y1="323.4" x2="337.5" y2="328.2" stroke="#111" stroke-width="1.35"/>
<line x1="356.57" y1="323.4" x2="356.57" y2="326.2" stroke="#111" stroke-width="1.35"/>
<line x1="375.64" y1="323.4" x2="375.64" y2="328.2" stroke="#111" stroke-width="1.35"/>
<line x1="394.71" y1="323.4" x2="394.71" y2="326.2" stroke="#111" stroke-width="1.35"/>
<line x1="413.78" y1="323.4" x2="413.78" y2="328.2" stroke="#111" stroke-width="1.35"/>
<line x1="432.85" y1="323.4" x2="432.85" y2="326.2" stroke="#111" stroke-width="1.35"/>
<line x1="451.92" y1="323.4" x2="451.92" y2="328.2" stroke="#111" stroke-width="1.35"/>
<line x1="470.99" y1="323.4" x2="470.99" y2="326.2" stroke="#111" stroke-width="1.35"/>
<line x1="490.06" y1="323.4" x2="490.06" y2="328.2" stroke="#111" stroke-width="1.35"/>
<line x1="509.13" y1="323.4" x2="509.13" y2="326.2" stroke="#111" stroke-width="1.35"/>
<line x1="528.2" y1="323.4" x2="528.2" y2="328.2" stroke="#111" stroke-width="1.35"/>
<line x1="547.27" y1="323.4" x2="547.27" y2="326.2" stroke="#111" stroke-width="1.35"/>
<text x="337.5" y="344.8" font-family="'Liberation Sans', sans-serif" font-size="14" font-weight="normal" text-anchor="middle" fill="#111" stroke="#111" stroke-width="0.3">0</text>
<text x="375.64" y="344.8" font-family="'Liberation Sans', sans-serif" font-size="14" font-weight="normal" text-anchor="middle" fill="#111" stroke="#111" stroke-width="0.3">200</text>
<text x="413.78" y="344.8" font-family="'Liberation Sans', sans-serif" font-size="14" font-weight="normal" text-anchor="middle" fill="#111" stroke="#111" stroke-width="0.3">400</text>
<text x="451.92" y="344.8" font-family="'Liberation Sans', sans-serif" font-size="14" font-weight="normal" text-anchor="middle" fill="#111" stroke="#111" stroke-width="0.3">600</text>
<text x="490.06" y="344.8" font-family="'Liberation Sans', sans-serif" font-size="14" font-weight="normal" text-anchor="middle" fill="#111" stroke="#111" stroke-width="0.3">800</text>
<text x="528.2" y="344.8" font-family="'Liberation Sans', sans-serif" font-size="14" font-weight="normal" text-anchor="middle" fill="#111" stroke="#111" stroke-width="0.3">1000</text>
<line x1="332.7" y1="322.9" x2="337.5" y2="322.9" stroke="#111" stroke-width="1.35"/>
<line x1="334.7" y1="313.04" x2="337.5" y2="313.04" stroke="#111" stroke-width="1.35"/>
<line x1="332.7" y1="303.19" x2="337.5" y2="303.19" stroke="#111" stroke-width="1.35"/>
<line x1="334.7" y1="293.33" x2="337.5" y2="293.33" stroke="#111" stroke-width="1.35"/>
<line x1="332.7" y1="283.47" x2="337.5" y2="283.47" stroke="#111" stroke-width="1.35"/>
<line x1="334.7" y1="273.61" x2="337.5" y2="273.61" stroke="#111" stroke-width="1.35"/>
<line x1="332.7" y1="263.75" x2="337.5" y2="263.75" stroke="#111" stroke-width="1.35"/>
<line x1="334.7" y1="253.9" x2="337.5" y2="253.9" stroke="#111" stroke-width="1.35"/>
<line x1="332.7" y1="244.04" x2="337.5" y2="244.04" stroke="#111" stroke-width="1.35"/>
<line x1="334.7" y1="234.18" x2="337.5" y2="234.18" stroke="#111" stroke-width="1.35"/>
<line x1="332.7" y1="224.32" x2="337.5" y2="224.32" stroke="#111" stroke-width="1.35"/>
<line x1="334.7" y1="214.47" x2="337.5" y2="214.47" stroke="#111" stroke-width="1.35"/>
<line x1="332.7" y1="204.61" x2="337.5" y2="204.61" stroke="#111" stroke-width="1.35"/>
<line x1="334.7" y1="194.75" x2="337.5" y2="194.75" stroke="#111" stroke-width="1.35"/>
<text x="328.6" y="328" font-family="'Liberation Sans', sans-serif" font-size="14" font-weight="normal" text-anchor="end" fill="#111" stroke="#111" stroke-width="0.3">0</text>
<text x="328.6" y="308.29" font-family="'Liberation Sans', sans-serif" font-size="14" font-weight="normal" text-anchor="end" fill="#111" stroke="#111" stroke-width="0.3">50</text>
<text x="328.6" y="288.57" font-family="'Liberation Sans', sans-serif" font-size="14" font-weight="normal" text-anchor="end" fill="#111" stroke="#111" stroke-width="0.3">100</text>
<text x="328.6" y="268.86" font-family="'Liberation Sans', sans-serif" font-size="14" font-weight="normal" text-anchor="end" fill="#111" stroke="#111" stroke-width="0.3">150</text>
<text x="328.6" y="249.14" font-family="'Liberation Sans', sans-serif" font-size="14" font-weight="normal" text-anchor="end" fill="#111" stroke="#111" stroke-width="0.3">200</text>
<text x="328.6" y="229.42" font-family="'Liberation Sans', sans-serif" font-size="14" font-weight="normal" text-anchor="end" fill="#111" stroke="#111" stroke-width="0.3">250</text>
<text x="328.6" y="209.71" font-family="'Liberation Sans', sans-serif" font-size="14" font-weight="normal" text-anchor="end" fill="#111" stroke="#111" stroke-width="0.3">300</text>
<text x="442.9" y="363" font-family="'Liberation Serif', serif" font-size="16.3" font-weight="bold" text-anchor="middle" fill="#111" stroke="#111" stroke-width="0.25">Pressure (kPa)</text>
<text font-family="'Liberation Serif', serif" font-size="16.5" font-weight="bold" text-anchor="middle" fill="#111" stroke="#111" stroke-width="0.25" transform="translate(299.0 259.9) rotate(-90)">&#916;R/R<tspan font-size="11.3" dy="3.9">0</tspan><tspan dy="-3.9" font-family="'Liberation Sans', sans-serif" font-weight="normal" stroke-width="0.3"> (%)</tspan></text>
<text x="341.2" y="211.6" font-family="'Liberation Serif', serif" font-size="16.5" font-weight="bold" text-anchor="start" fill="#111" stroke="#111" stroke-width="0.25">(d)</text>
<path d="M546.8 289.8 L485.3 289.8 L485.3 323.4" fill="none" stroke="#111" stroke-width="1.1"/>
<line x1="489.3" y1="299.1" x2="509.8" y2="299.1" stroke="#111" stroke-width="1.3"/>
<line x1="489.3" y1="315.6" x2="492" y2="315.6" stroke="#111" stroke-width="1.3"/>
<line x1="496.1" y1="315.6" x2="501" y2="315.6" stroke="#111" stroke-width="1.3"/>
<line x1="504.6" y1="315.6" x2="509.8" y2="315.6" stroke="#111" stroke-width="1.3"/>
<text x="513.8" y="302.7" font-family="'Liberation Serif', serif" font-size="14" font-weight="normal" text-anchor="start" fill="#111" stroke="#111" stroke-width="0.2" textLength="27.8" lengthAdjust="spacingAndGlyphs">skin1</text>
<text x="513.8" y="319" font-family="'Liberation Serif', serif" font-size="14" font-weight="normal" text-anchor="start" fill="#111" stroke="#111" stroke-width="0.2" textLength="29.2" lengthAdjust="spacingAndGlyphs">skin2</text>
<path d="M338 322.9 C340 322.52 345.5 321.72 350 320.6 C354.5 319.48 359.67 318.5 365 316.2 C370.33 313.9 376.17 309.47 382 306.8 C387.83 304.13 394.79 302.2 400 300.2 C405.21 298.2 409.17 296.5 413.25 294.8 C417.33 293.1 419.01 292.55 424.5 290 C429.99 287.45 438.73 283.25 446.2 279.5 C453.67 275.75 461.6 271.83 469.3 267.5 C477 263.17 484.9 258.18 492.4 253.5 C499.9 248.82 510.65 241.75 514.3 239.4" fill="none" stroke="#e60000" stroke-width="1.2" stroke-linecap="round" stroke-linejoin="round" stroke-dasharray="2.4 1.8"/>
<path d="M338 322.9 C340.83 322.55 349.67 321.87 355 320.8 C360.33 319.73 365 318.22 370 316.5 C375 314.78 379.88 312.7 385 310.5 C390.12 308.3 396.04 305.47 400.75 303.3 C405.46 301.13 408.88 299.38 413.25 297.5 C417.62 295.62 421.51 294.38 427 292 C432.49 289.62 439.15 286.67 446.2 283.2 C453.25 279.73 461.6 275.53 469.3 271.2 C477 266.87 484.7 262.17 492.4 257.2 C500.1 252.23 511.65 244.03 515.5 241.4" fill="none" stroke="#e60000" stroke-width="1.3" stroke-linecap="round" stroke-linejoin="round" stroke-dasharray="2.6 1.6"/>
<path d="M338 323 C341.67 322.58 353.83 321.67 360 320.5 C366.17 319.33 371.33 317.42 375 316 C378.67 314.58 378.75 313.3 382 312 C385.25 310.7 390.33 309.62 394.5 308.2 C398.67 306.78 402.83 305.03 407 303.5 C411.17 301.97 416.17 300.22 419.5 299 C422.83 297.78 422.55 298.17 427 296.2 C431.45 294.23 439.15 290.73 446.2 287.2 C453.25 283.67 461.6 279.4 469.3 275 C477 270.6 484.7 266.1 492.4 260.8 C500.1 255.5 511.65 246.13 515.5 243.2" fill="none" stroke="#e60000" stroke-width="1.2" stroke-linecap="round" stroke-linejoin="round" stroke-dasharray="2.4 1.8"/>
<path d="M337.8 322.3 C337.93 321.08 338.3 317.22 338.6 315 C338.9 312.78 339.2 310.83 339.6 309 C340 307.17 340.27 305.7 341 304 C341.73 302.3 342.58 300.42 344 298.8 C345.42 297.18 346.35 296.38 349.5 294.3 C352.65 292.22 357.48 289.78 362.9 286.3 C368.32 282.82 376.73 276.87 382 273.4 C387.27 269.93 390.33 267.9 394.5 265.5 C398.67 263.1 402.83 261.03 407 259 C411.17 256.97 416 254.8 419.5 253.3 C423 251.8 424.5 251.5 428 250 C431.5 248.5 436.33 246.3 440.5 244.3 C444.67 242.3 448.83 240.12 453 238 C457.17 235.88 462 233.47 465.5 231.6 C469 229.73 470.5 228.83 474 226.8 C477.5 224.77 482.75 221.37 486.5 219.4 C490.25 217.43 493.38 216.3 496.5 215 C499.62 213.7 502.75 212.85 505.25 211.6 C507.75 210.35 509.42 208.88 511.5 207.5 C513.58 206.12 516.71 204 517.75 203.3" fill="none" stroke="#e60000" stroke-width="1.25" stroke-linecap="round" stroke-linejoin="round"/>
<path d="M337.8 322.3 C338.08 321.25 338.88 318.22 339.5 316 C340.12 313.78 340.75 311.25 341.5 309 C342.25 306.75 342.67 304.47 344 302.5 C345.33 300.53 346.35 299.32 349.5 297.2 C352.65 295.08 357.48 292.83 362.9 289.8 C368.32 286.77 375.69 282.48 382 279 C388.31 275.52 395.54 271.82 400.75 268.9 C405.96 265.98 408.71 264.18 413.25 261.5 C417.79 258.82 423.46 255.42 428 252.8 C432.54 250.18 436.33 248.03 440.5 245.8 C444.67 243.57 448.83 241.48 453 239.4 C457.17 237.32 462 234.97 465.5 233.3 C469 231.63 470.5 230.8 474 229.4 C477.5 228 482.33 226.42 486.5 224.9 C490.67 223.38 495.88 221.52 499 220.3 C502.12 219.08 502.54 218.65 505.25 217.6 C507.96 216.55 513.58 214.6 515.25 214" fill="none" stroke="#e60000" stroke-width="1.2" stroke-linecap="round" stroke-linejoin="round"/>
<path d="M382.92 280.66 C386.05 278.98 396.46 273.48 401.68 270.56 C406.89 267.64 409.67 265.82 414.22 263.14 C418.76 260.45 424.42 257.06 428.95 254.45 C433.48 251.84 437.25 249.7 441.4 247.47 C445.55 245.25 449.7 243.18 453.85 241.1 C458 239.02 462.84 236.67 466.32 235.02 C469.79 233.36 471.23 232.55 474.71 231.16 C478.18 229.78 482.99 228.2 487.15 226.69 C491.31 225.17 496.56 223.29 499.69 222.07 C502.82 220.85 503.24 220.42 505.94 219.37 C508.64 218.32 514.23 216.38 515.89 215.79" fill="none" stroke="#e60000" stroke-width="0.9" stroke-linecap="round" stroke-linejoin="round"/>
<path d="M337.8 322.3 C337.85 321.25 337.95 318.05 338.1 316 C338.25 313.95 338.27 312.3 338.7 310 C339.13 307.7 339.58 304.32 340.7 302.2 C341.82 300.08 341.7 299.4 345.4 297.3 C349.1 295.2 356.8 292.75 362.9 289.6 C369 286.45 375.58 281.88 382 278.4 C388.42 274.92 398.17 270.32 401.4 268.7" fill="none" stroke="#0000e6" stroke-width="2.8" stroke-linecap="round" stroke-linejoin="round"/>
<path d="M337.8 322.3 C337.88 321.08 338.03 317.48 338.3 315 C338.57 312.52 338.43 309.68 339.4 307.4 C340.37 305.12 340.18 304.2 344.1 301.3 C348.02 298.4 357.97 293.3 362.9 290 C367.83 286.7 371.33 283.43 373.7 281.5 C376.07 279.57 376.53 278.92 377.1 278.4" fill="none" stroke="#008000" stroke-width="2.4" stroke-linecap="round" stroke-linejoin="round"/>
<path d="M338 322.9 C339.92 322.15 345.35 320.28 349.5 318.4 C353.65 316.52 358.53 314 362.9 311.6 C367.27 309.2 373.57 305.27 375.7 304" fill="none" stroke="#008000" stroke-width="1.4" stroke-linecap="round" stroke-linejoin="round" stroke-dasharray="3.5 2"/>
<path d="M338 323 C339.92 322.67 345.35 322 349.5 321 C353.65 320 358.42 318.45 362.9 317 C367.38 315.55 373.22 313.55 376.4 312.3 C379.58 311.05 379.77 310.62 382 309.5 C384.23 308.38 387.93 306.57 389.8 305.6 C391.68 304.63 391.63 304.65 393.25 303.7 C394.87 302.75 398.46 300.53 399.5 299.9" fill="none" stroke="#0000e6" stroke-width="1.7" stroke-linecap="round" stroke-linejoin="round" stroke-dasharray="4 2"/>
<path d="M52.2 1.5 L52.2 132.3 L262.4 132.3 L262.4 1.5" fill="none" stroke="#111" stroke-width="1.35"/>
<path d="M52.2 1.5 H262.4" stroke="#111" stroke-width="1.35"/>
<path d="M52.2 195.7 L52.2 325.8 L262 325.8 L262 195.7" fill="none" stroke="#111" stroke-width="1.35"/>
<path d="M52.2 195.7 H145.6 M164.2 195.7 H262" stroke="#111" stroke-width="1.35"/>
<path d="M337.3 1 L337.3 130.4 L546.8 130.4 L546.8 1" fill="none" stroke="#111" stroke-width="1.35"/>
<path d="M337.3 1 H546.8" stroke="#111" stroke-width="1.35"/>
<path d="M337.5 193.2 L337.5 323.4 L546.8 323.4 L546.8 193.2" fill="none" stroke="#111" stroke-width="1.35"/>
<path d="M337.5 193.2 H432.6 M451.9 193.2 H546.8" stroke="#111" stroke-width="1.35"/>
<path d="M150.2 180.8 L159 180.8 L159 202.4 L163.3 202.4 L154.6 212.8 L145.9 202.4 L150.2 202.4 Z" fill="#fff" stroke="#111" stroke-width="1.2" stroke-linejoin="miter"/>
<path d="M437.1 179.5 L446.3 179.5 L446.3 201.5 L450.6 201.5 L441.9 211.6 L433.2 201.5 L437.1 201.5 Z" fill="#fff" stroke="#111" stroke-width="1.2" stroke-linejoin="miter"/>
</svg>
</body></html>
